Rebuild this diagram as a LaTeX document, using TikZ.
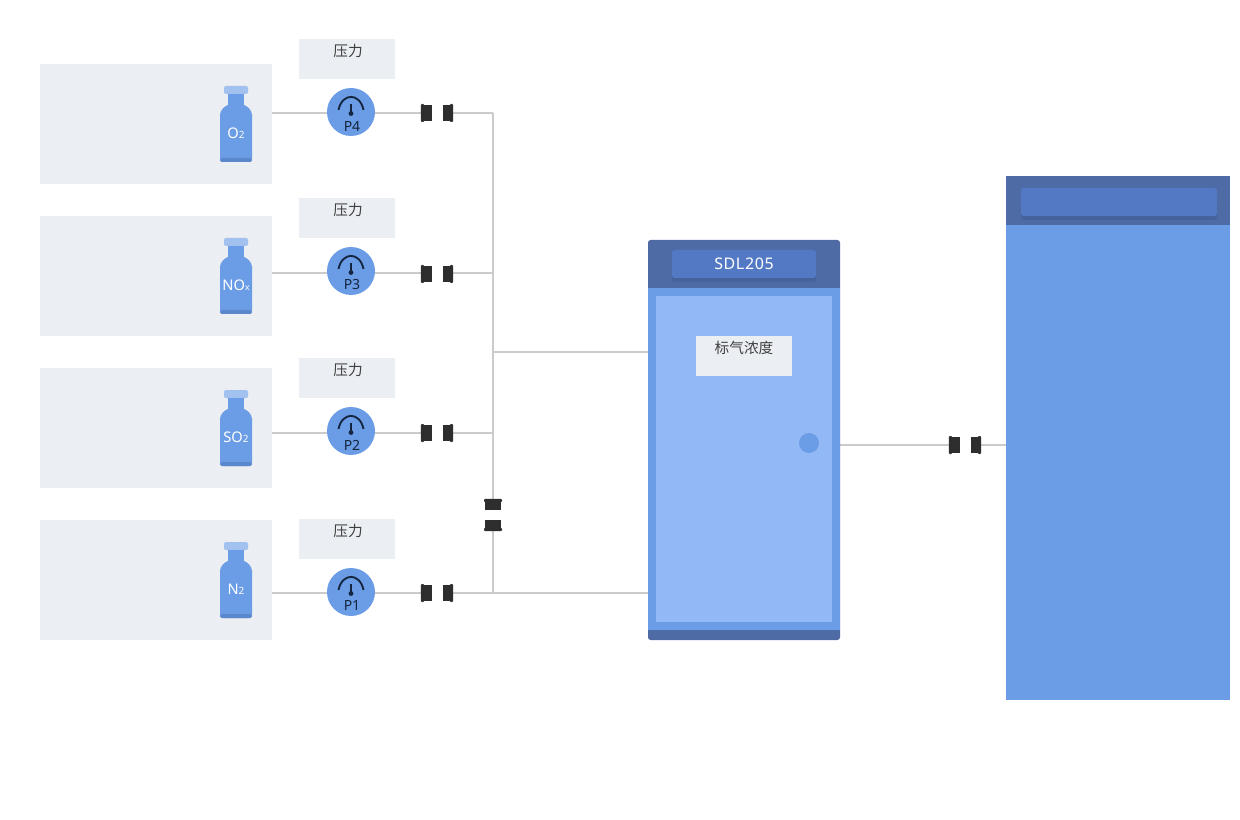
\documentclass[tikz,border=0pt]{standalone}
\usepackage{xcolor}
\usepackage{fontspec}
\setmainfont{Noto Sans}
\newfontfamily\cjk{Noto Sans CJK SC}
\newfontfamily\platefont[LetterSpace=4]{Noto Sans}
\usetikzlibrary{positioning,backgrounds,shadows}
\definecolor{panelc}{HTML}{EBEEF3}
\definecolor{bluec}{HTML}{6B9CE6}
\definecolor{lightc}{HTML}{92B9F5}
\definecolor{capc}{HTML}{A3C1EE}
\definecolor{basec}{HTML}{5B87CC}
\definecolor{darkc}{HTML}{4F6BA5}
\definecolor{platec}{HTML}{5379C4}
\definecolor{shadec}{HTML}{46629B}
\definecolor{pipec}{HTML}{CBCBCB}
\definecolor{valvec}{HTML}{2E2E2E}
\definecolor{dialc}{HTML}{14263F}
\newcommand{\valveh}[3]{%
  \node[valve, minimum width=7.5pt, minimum height=12pt] (#1l) at (#2-10.5,#3) {};
  \node[valve, minimum width=2.5pt, minimum height=13.5pt, rounded corners=.8pt] (#1lf) at (#2-14.5,#3) {};
  \node[valve, minimum width=7.5pt, minimum height=12pt] (#1r) at (#2+10.5,#3) {};
  \node[valve, minimum width=2.5pt, minimum height=13.5pt, rounded corners=.8pt] (#1rf) at (#2+14.5,#3) {};
}
\tikzset{
  bottle/.pic={
    \fill[capc, rounded corners=1.5pt] (-12,0) rectangle (12,8);
    \fill[bluec] (-8,8) rectangle (8,22);
    \fill[bluec, rounded corners=3pt] (-8,18) -- (-16,25) -- (-16,76) -- (16,76) -- (16,25) -- (8,18) -- cycle;
    \fill[basec, rounded corners=1.5pt] (-16,72) rectangle (16,76);
  },
  dial/.pic={
    \draw[dialc, line width=1.4pt] (-12.5,-2) .. controls (-9,-19.5) and (9,-19.5) .. (12.5,-2);
    \draw[dialc, line width=1.1pt] (0,-8) -- (0,1);
    \fill[dialc] (0,1.5) circle (2.4);
  },
}
\begin{document}
\begin{tikzpicture}[
  x=.75pt, y=-.75pt,
  font=\fontsize{11pt}{13pt}\selectfont,
  panel/.style={fill=panelc, minimum width=174pt, minimum height=90pt, inner sep=0pt, outer sep=0pt},
  tagbox/.style={fill=panelc, minimum width=72pt, minimum height=30pt, inner sep=0pt, outer sep=0pt},
  tagtext/.style={inner sep=0pt, text=black!75, font=\fontsize{11pt}{13pt}\cjk},
  gauge/.style={circle, fill=bluec, minimum size=36pt, inner sep=0pt, outer sep=0pt},
  gaslabel/.style={inner sep=0pt, text=white},
  gaugelabel/.style={inner sep=0pt, text=dialc, font=\fontsize{10.5pt}{12pt}\selectfont},
  valve/.style={fill=valvec, inner sep=0pt, outer sep=0pt},
  pipe/.style={draw=pipec, line width=1.5pt},
  head/.style={fill=darkc, inner sep=0pt, outer sep=0pt},
  body/.style={fill=bluec, inner sep=0pt, outer sep=0pt},
  plate/.style={fill=platec, rounded corners=2pt, inner sep=0pt, outer sep=0pt,
    drop shadow={shadow xshift=0pt, shadow yshift=-3pt, fill=shadec, opacity=1}},
]
\useasboundingbox (0,0) rectangle (1240,820);
% gas panels
\node[panel] (panel4) at (156,124) {};
\node[panel, below=24pt of panel4] (panel3) {};
\node[panel, below=24pt of panel3] (panel2) {};
\node[panel, below=24pt of panel2] (panel1) {};
% bottles
\pic at (236,86) {bottle};
\pic at (236,238) {bottle};
\pic at (236,390) {bottle};
\pic at (236,542) {bottle};
\node[gaslabel] (gas4) at (236,133) {O{\fontsize{7.5pt}{9pt}\selectfont 2}};
\node[gaslabel] (gas3) at (236,285) {NO{\fontsize{6.5pt}{9pt}\selectfont x}};
\node[gaslabel] (gas2) at (236,437) {SO{\fontsize{7.5pt}{9pt}\selectfont 2}};
\node[gaslabel] (gas1) at (236,589) {N{\fontsize{7.5pt}{9pt}\selectfont 2}};
% pressure tags
\node[tagbox] (tag4) at (347,59) {};
\node[tagbox] (tag3) at (347,218) {};
\node[tagbox] (tag2) at (347,378) {};
\node[tagbox] (tag1) at (347,539) {};
\node[tagtext, below=4pt of tag4.north, xshift=.75pt] (tagt4) {压力};
\node[tagtext, below=4pt of tag3.north, xshift=.75pt] (tagt3) {压力};
\node[tagtext, below=4pt of tag2.north, xshift=.75pt] (tagt2) {压力};
\node[tagtext, below=4pt of tag1.north, xshift=.75pt] (tagt1) {压力};
% gauges
\node[gauge] (gauge4) at (351,112) {};
\node[gauge] (gauge3) at (351,271) {};
\node[gauge] (gauge2) at (351,431) {};
\node[gauge] (gauge1) at (351,592) {};
\pic at (351,112) {dial};
\pic at (351,271) {dial};
\pic at (351,431) {dial};
\pic at (351,592) {dial};
\node[gaugelabel] (pt4) at (352,126) {P4};
\node[gaugelabel] (pt3) at (352,285) {P3};
\node[gaugelabel] (pt2) at (352,445) {P2};
\node[gaugelabel] (pt1) at (352,606) {P1};
% valves
\valveh{vfour}{437}{113}
\valveh{vthree}{437}{274}
\valveh{vtwo}{437}{433}
\valveh{vone}{437}{593}
\valveh{vout}{965}{445}
\node[valve, minimum width=11.5pt, minimum height=7.5pt] (vbust) at (493,505) {};
\node[valve, minimum width=13.5pt, minimum height=2.5pt, rounded corners=.8pt] (vbustf) at (493,500.5) {};
\node[valve, minimum width=11.5pt, minimum height=7.5pt] (vbusb) at (493,525) {};
\node[valve, minimum width=13.5pt, minimum height=2.5pt, rounded corners=.8pt] (vbusbf) at (493,529.5) {};
% gas cabinet
\node[head, rounded corners=2pt, minimum width=144pt, minimum height=300pt] (cabinet) at (744,440) {};
\node[body, minimum width=144pt, minimum height=256.5pt] (cabbody) at (744,459) {};
\node[fill=lightc, inner sep=0pt, minimum width=132pt, minimum height=244.5pt] (cabinner) at (744,459) {};
\node[plate, minimum width=108pt, minimum height=21pt, text=white, font=\fontsize{12pt}{14pt}\platefont] (cabplate) at (744,264) {SDL205};
\node[fill=panelc, inner sep=0pt, minimum width=72pt, minimum height=30pt] (conc) at (744,356) {};
\node[tagtext, below=4pt of conc.north] (conct) {标气浓度};
\node[circle, fill=bluec, minimum size=15pt, inner sep=0pt] (knob) at (809,443) {};
% analyser rack
\node[body, minimum width=168pt, minimum height=393pt] (rack) at (1118,438) {};
\node[head, minimum width=168pt, minimum height=36.5pt] (rackhead) at (1118,200.5) {};
\node[plate, minimum width=147pt, minimum height=21pt] (rackplate) at (1119,202) {};
% pipes
\coordinate (j4) at (493,113);
\coordinate (j3) at (493,273);
\coordinate (j2) at (493,433);
\coordinate (j1) at (493,593);
\coordinate (jc) at (493,352);
\begin{scope}[on background layer]
\draw[pipe] (panel4.east |- j4) -- (gauge4 |- j4) -- (vfourl);
\draw[pipe] (panel3.east |- j3) -- (gauge3 |- j3) -- (vthreel.west |- j3);
\draw[pipe] (panel2.east |- j2) -- (gauge2 |- j2) -- (vtwol);
\draw[pipe] (panel1.east |- j1) -- (gauge1 |- j1) -- (vonel);
\draw[pipe] (vfourr) -- (j4);
\draw[pipe] (vthreer.east |- j3) -- (j3);
\draw[pipe] (vtwor) -- (j2);
\draw[pipe] (voner) -- (j1);
\draw[pipe] (j4) -- (vbust);
\draw[pipe] (vbusb) -- (j1);
\draw[pipe] (jc) -- (cabinet.west |- jc);
\draw[pipe] (j1) -- (cabinet.west |- j1);
\draw[pipe] (cabinet.east |- voutl) -- (voutl);
\draw[pipe] (voutr) -- (rack.west |- voutr);
\end{scope}
\end{tikzpicture}
\end{document}
